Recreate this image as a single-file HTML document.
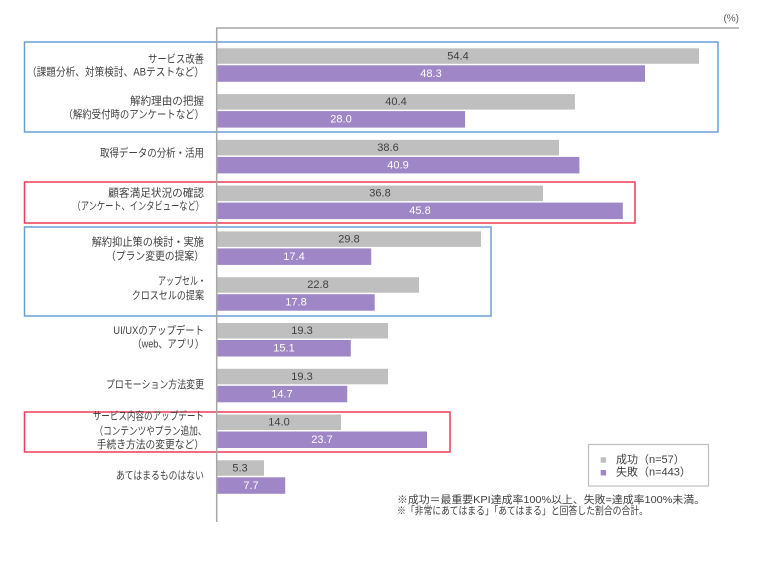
<!DOCTYPE html>
<html><head><meta charset="utf-8"><style>
html,body{margin:0;padding:0;background:#fff;}
svg{display:block;}
text{font-family:"Liberation Sans","Noto Sans CJK JP",sans-serif;}
</style></head><body>
<svg width="761" height="567" viewBox="0 0 761 567" xmlns="http://www.w3.org/2000/svg">
<rect width="761" height="567" fill="#fff"/>
<!-- highlight boxes -->
<rect x="24.5" y="42" width="693.5" height="90" fill="none" stroke="#6a9fd6" stroke-width="1.5"/>
<rect x="24.5" y="182" width="610.5" height="41" fill="none" stroke="#ee3b57" stroke-width="1.5"/>
<rect x="24.5" y="227" width="466.5" height="89" fill="none" stroke="#6a9fd6" stroke-width="1.5"/>
<rect x="24.5" y="412" width="425.5" height="40" fill="none" stroke="#ee3b57" stroke-width="1.5"/>

<!-- bars -->
<g>
<rect x="217.5" y="48.3" width="481.5" height="15.5" fill="#bfbfbf"/>
<rect x="217.5" y="65.3" width="427.5" height="16.5" fill="#9e86c7"/>
<rect x="217.5" y="94.1" width="357.4" height="15.5" fill="#bfbfbf"/>
<rect x="217.5" y="111.1" width="247.6" height="16.5" fill="#9e86c7"/>
<rect x="217.5" y="139.9" width="341.5" height="15.5" fill="#bfbfbf"/>
<rect x="217.5" y="156.9" width="361.9" height="16.5" fill="#9e86c7"/>
<rect x="217.5" y="185.6" width="325.5" height="15.5" fill="#bfbfbf"/>
<rect x="217.5" y="202.6" width="405.3" height="16.5" fill="#9e86c7"/>
<rect x="217.5" y="231.4" width="263.5" height="15.5" fill="#bfbfbf"/>
<rect x="217.5" y="248.4" width="153.7" height="16.5" fill="#9e86c7"/>
<rect x="217.5" y="277.2" width="201.5" height="15.5" fill="#bfbfbf"/>
<rect x="217.5" y="294.2" width="157.2" height="16.5" fill="#9e86c7"/>
<rect x="217.5" y="323.0" width="170.5" height="15.5" fill="#bfbfbf"/>
<rect x="217.5" y="340.0" width="133.3" height="16.5" fill="#9e86c7"/>
<rect x="217.5" y="368.8" width="170.5" height="15.5" fill="#bfbfbf"/>
<rect x="217.5" y="385.8" width="129.7" height="16.5" fill="#9e86c7"/>
<rect x="217.5" y="414.5" width="123.5" height="15.5" fill="#bfbfbf"/>
<rect x="217.5" y="431.5" width="209.5" height="16.5" fill="#9e86c7"/>
<rect x="217.5" y="460.3" width="46.5" height="15.5" fill="#bfbfbf"/>
<rect x="217.5" y="477.3" width="67.7" height="16.5" fill="#9e86c7"/>
</g>

<!-- axes -->
<line x1="216" y1="28" x2="739" y2="28" stroke="#a6a6a6" stroke-width="1.5"/>
<line x1="216.7" y1="28" x2="216.7" y2="522" stroke="#a6a6a6" stroke-width="1.5"/>
<text x="739" y="19" font-size="10" fill="#595959" text-anchor="end" dominant-baseline="central">(%)</text>

<!-- value labels -->
<g font-size="11" text-anchor="middle" dominant-baseline="central">
<text x="458" y="56.3" fill="#404040">54.4</text>
<text x="431" y="73.8" fill="#fff">48.3</text>
<text x="396" y="102.1" fill="#404040">40.4</text>
<text x="341" y="119.6" fill="#fff">28.0</text>
<text x="388" y="147.9" fill="#404040">38.6</text>
<text x="398" y="165.4" fill="#fff">40.9</text>
<text x="380" y="193.6" fill="#404040">36.8</text>
<text x="420" y="211.1" fill="#fff">45.8</text>
<text x="349" y="239.4" fill="#404040">29.8</text>
<text x="294" y="256.9" fill="#fff">17.4</text>
<text x="318" y="285.2" fill="#404040">22.8</text>
<text x="296" y="302.7" fill="#fff">17.8</text>
<text x="302" y="331.0" fill="#404040">19.3</text>
<text x="284" y="348.5" fill="#fff">15.1</text>
<text x="302" y="376.8" fill="#404040">19.3</text>
<text x="282" y="394.3" fill="#fff">14.7</text>
<text x="279" y="422.5" fill="#404040">14.0</text>
<text x="322" y="440.0" fill="#fff">23.7</text>
<text x="240" y="468.3" fill="#404040">5.3</text>
<text x="251" y="485.8" fill="#fff">7.7</text>
</g>

<!-- category labels -->
<g font-size="11" fill="#404040" dominant-baseline="central">
<text x="148" y="59.3" textLength="56" lengthAdjust="spacingAndGlyphs">サービス改善</text>
<text x="27" y="72.5" textLength="177" lengthAdjust="spacingAndGlyphs">（課題分析、対策検討、ABテストなど）</text>
<text x="130" y="101.7" textLength="74" lengthAdjust="spacingAndGlyphs">解約理由の把握</text>
<text x="63.5" y="115" textLength="140.5" lengthAdjust="spacingAndGlyphs">（解約受付時のアンケートなど）</text>
<text x="100" y="153.5" textLength="104" lengthAdjust="spacingAndGlyphs">取得データの分析・活用</text>
<text x="108.3" y="193.3" textLength="95.7" lengthAdjust="spacingAndGlyphs">顧客満足状況の確認</text>
<text x="72.5" y="206.7" textLength="131.5" lengthAdjust="spacingAndGlyphs">（アンケート、インタビューなど）</text>
<text x="91.7" y="242.7" textLength="112.3" lengthAdjust="spacingAndGlyphs">解約抑止策の検討・実施</text>
<text x="106" y="256.7" textLength="98" lengthAdjust="spacingAndGlyphs">（プラン変更の提案）</text>
<text x="158" y="281.7" textLength="48" lengthAdjust="spacingAndGlyphs">アップセル・</text>
<text x="131.7" y="296" textLength="72.3" lengthAdjust="spacingAndGlyphs">クロスセルの提案</text>
<text x="113.3" y="331" textLength="90.7" lengthAdjust="spacingAndGlyphs">UI/UXのアップデート</text>
<text x="132.5" y="344.3" textLength="71.5" lengthAdjust="spacingAndGlyphs">（web、アプリ）</text>
<text x="106" y="385" textLength="98" lengthAdjust="spacingAndGlyphs">プロモーション方法変更</text>
<text x="92.7" y="416.7" textLength="111.3" lengthAdjust="spacingAndGlyphs">サービス内容のアップデート</text>
<text x="94.5" y="431.3" textLength="112" lengthAdjust="spacingAndGlyphs">（コンテンツやプラン追加、</text>
<text x="96.7" y="445" textLength="107.3" lengthAdjust="spacingAndGlyphs">手続き方法の変更など）</text>
<text x="116" y="476" textLength="88" lengthAdjust="spacingAndGlyphs">あてはまるものはない</text>
</g>

<!-- legend -->
<rect x="588.5" y="444.5" width="120" height="41.5" fill="#fff" stroke="#bfbfbf" stroke-width="1.2"/>
<rect x="600.7" y="457.3" width="5.4" height="5.4" fill="#bfbfbf"/>
<rect x="600.7" y="470" width="5.4" height="5.4" fill="#9e86c7"/>
<g font-size="11" fill="#404040" dominant-baseline="central">
<text x="616" y="460">成功（n=57）</text>
<text x="616" y="472.7">失敗（n=443）</text>
</g>

<!-- footnotes -->
<g font-size="10.5" fill="#404040" dominant-baseline="central">
<text x="397" y="500" textLength="308" lengthAdjust="spacingAndGlyphs">※成功＝最重要KPI達成率100%以上、失敗=達成率100%未満。</text>
<text x="397" y="511" textLength="251" lengthAdjust="spacingAndGlyphs">※「非常にあてはまる」「あてはまる」と回答した割合の合計。</text>
</g>
</svg>
</body></html>
